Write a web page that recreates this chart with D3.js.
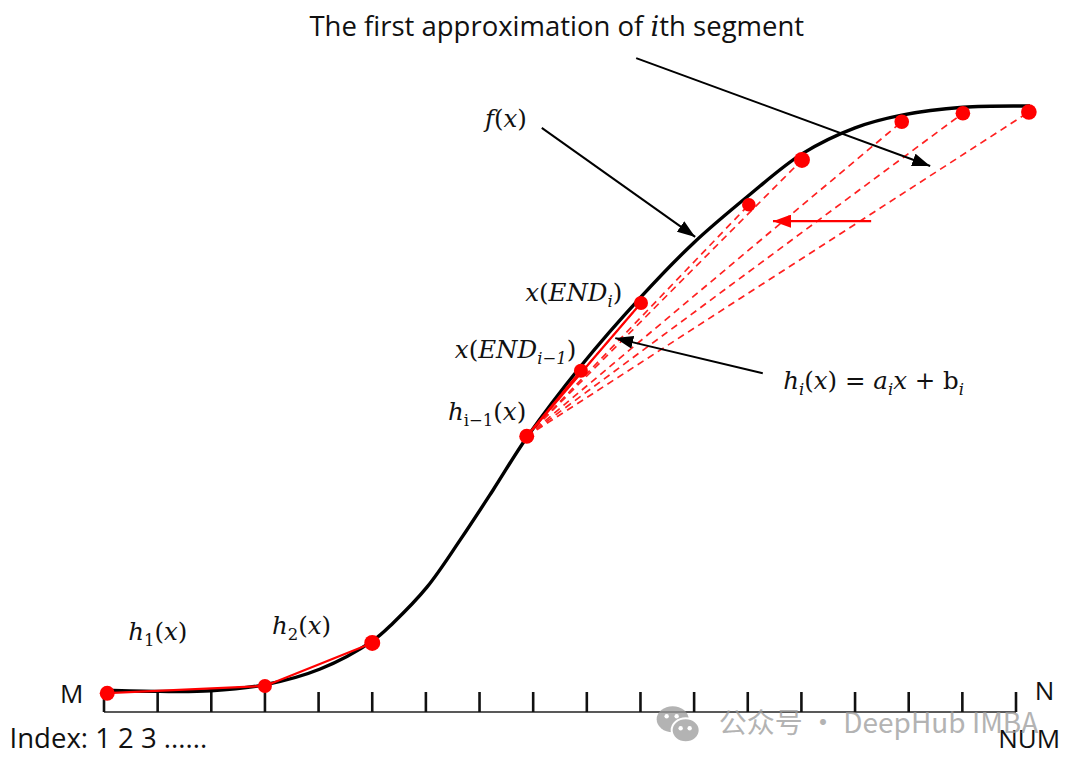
<!DOCTYPE html>
<html>
<head>
<meta charset="utf-8">
<script src="https://cdn.jsdelivr.net/npm/d3@7"></script>
<style>
  body { margin: 0; background: #fff; }
  svg { display: block; }
</style>
</head>
<body>
<div id="chart"></div>
<script>
// index ticks along the bottom axis
const tickIdx = [0, 1, 2, 3, 4, 5, 6, 7, 8, 9, 10, 11, 12, 13, 14, 15, 16, 17];

// f(x): the black S-curve (index, value)
const curveIdx = [0, 1.04, 1.99, 3.0, 4.03, 5.0, 5.39, 6.02, 6.64, 7.25, 7.88, 8.89, 10.01, 10.99, 12.0, 13.01, 14.0, 14.87, 16.01, 17.26];
const curveVal = [3.6, 3.4, 3.5, 4.5, 7.1, 11.7, 14.7, 20.6, 28.4, 36.6, 45.3, 57.1, 68.5, 77.4, 85.1, 92.1, 96.4, 98.5, 99.8, 100];

// red break points
const pointIdx = [0.06, 3.0, 5.0, 7.88, 8.89, 10.01, 12.02, 13.01, 14.87, 16.01, 17.24];
const pointVal = [3.1, 4.3, 11.4, 45.5, 56.3, 67.5, 83.7, 91.1, 97.4, 98.8, 99.0];
const pointR = [7.5, 7, 8, 7.5, 7, 7, 6.8, 8, 7.3, 7.3, 7.8];

// segments between break points
const solidLinks = [[0, 1], [1, 2], [3, 4], [3, 5]];
const dashedLinks = [[3, 5], [3, 6], [3, 7], [3, 8], [3, 9], [3, 10]];

// annotation arrows [fromIdx, fromVal, toIdx, toVal]
const blackArrows = [
  [9.92, 107.9, 15.40, 90.1],
  [8.16, 96.4, 11.02, 78.4],
  [12.28, 55.9, 9.53, 61.7]
];
const redArrows = [[14.30, 81.0, 12.47, 81.0]];

// math labels: [text, style] with style i = italic, r = roman, si/sr = subscript
const mathLabels = [
  { x: 7.1, v: 96.5, parts: [["f", "i"], ["(", "r"], ["x", "i"], [")", "r"]] },
  { x: 7.85, v: 67.8, parts: [["x", "i"], ["(", "r"], ["END", "i"], ["i", "si"], [")", "r"]] },
  { x: 6.54, v: 58.4, parts: [["x", "i"], ["(", "r"], ["END", "i"], ["i\u22121", "si"], [")", "r"]] },
  { x: 6.41, v: 48.2, parts: [["h", "i"], ["i\u22121", "sr"], ["(", "r"], ["x", "i"], [")", "r"]] },
  { x: 12.66, v: 53.3, parts: [["h", "i"], ["i", "si"], ["(", "r"], ["x", "i"], [")", "r"], [" = ", "r"], ["a", "i"], ["i", "si"], ["x", "i"], [" +  b", "r"], ["i", "si"]] },
  { x: 0.45, v: 11.8, parts: [["h", "i"], ["1", "sr"], ["(", "r"], ["x", "i"], [")", "r"]] },
  { x: 3.13, v: 12.9, parts: [["h", "i"], ["2", "sr"], ["(", "r"], ["x", "i"], [")", "r"]] }
];

const W = 1080, H = 766;
const x = d3.scaleLinear().domain([0, 17]).range([104, 1016]);
const y = d3.scaleLinear().domain([0, 100]).range([712, 106]);

const svg = d3.select("#chart").append("svg")
  .attr("width", W)
  .attr("height", H)
  .style("background", "#fff");

const defs = svg.append("defs");
function marker(id, color, w, h) {
  defs.append("marker")
    .attr("id", id)
    .attr("viewBox", `0 0 ${w} ${h}`)
    .attr("refX", w)
    .attr("refY", h / 2)
    .attr("markerWidth", w)
    .attr("markerHeight", h)
    .attr("markerUnits", "userSpaceOnUse")
    .attr("orient", "auto")
    .append("path")
    .attr("d", `M0,0L${w},${h / 2}L0,${h}Z`)
    .attr("fill", color);
}
marker("arrowBlack", "#000", 18, 13);
marker("arrowRed", "#f00", 18, 13);

// axis: base line and upward ticks
svg.append("line")
  .attr("x1", x(0)).attr("x2", x(17))
  .attr("y1", y(0)).attr("y2", y(0))
  .attr("stroke", "#222").attr("stroke-width", 1.6);

svg.selectAll(".tick")
  .data(tickIdx)
  .join("line")
  .attr("class", "tick")
  .attr("x1", d => x(d)).attr("x2", d => x(d))
  .attr("y1", y(0)).attr("y2", y(0) - 20)
  .attr("stroke", "#111").attr("stroke-width", 2.6);

// dashed candidate approximations
svg.selectAll(".dash")
  .data(dashedLinks)
  .join("line")
  .attr("class", "dash")
  .attr("x1", d => x(pointIdx[d[0]])).attr("y1", d => y(pointVal[d[0]]))
  .attr("x2", d => x(pointIdx[d[1]])).attr("y2", d => y(pointVal[d[1]]))
  .attr("stroke", "#ff2020").attr("stroke-width", 1.7)
  .attr("stroke-dasharray", "7,5");

// f(x)
const curveData = curveIdx.map((d, i) => [d, curveVal[i]]);
svg.append("path")
  .datum(curveData)
  .attr("fill", "none")
  .attr("stroke", "#000")
  .attr("stroke-width", 3.4)
  .attr("d", d3.line().x(d => x(d[0])).y(d => y(d[1])).curve(d3.curveCatmullRom));

// solid linear pieces
svg.selectAll(".solid")
  .data(solidLinks)
  .join("line")
  .attr("class", "solid")
  .attr("x1", d => x(pointIdx[d[0]])).attr("y1", d => y(pointVal[d[0]]))
  .attr("x2", d => x(pointIdx[d[1]])).attr("y2", d => y(pointVal[d[1]]))
  .attr("stroke", "#f00").attr("stroke-width", 2.2);

svg.selectAll(".pt")
  .data(pointIdx)
  .join("circle")
  .attr("class", "pt")
  .attr("cx", d => x(d))
  .attr("cy", (d, i) => y(pointVal[i]))
  .attr("r", (d, i) => pointR[i])
  .attr("fill", "#f00");

// arrows
svg.selectAll(".barrow")
  .data(blackArrows)
  .join("line")
  .attr("class", "barrow")
  .attr("x1", d => x(d[0])).attr("y1", d => y(d[1]))
  .attr("x2", d => x(d[2])).attr("y2", d => y(d[3]))
  .attr("stroke", "#000").attr("stroke-width", 2)
  .attr("marker-end", "url(#arrowBlack)");

svg.selectAll(".rarrow")
  .data(redArrows)
  .join("line")
  .attr("class", "rarrow")
  .attr("x1", d => x(d[0])).attr("y1", d => y(d[1]))
  .attr("x2", d => x(d[2])).attr("y2", d => y(d[3]))
  .attr("stroke", "#f00").attr("stroke-width", 2.2)
  .attr("marker-end", "url(#arrowRed)");

// math labels
const mathFont = "'DejaVu Serif', 'Liberation Serif', serif";
mathLabels.forEach(lab => {
  const t = svg.append("text")
    .attr("x", x(lab.x))
    .attr("y", y(lab.v))
    .style("font-family", mathFont)
    .style("font-size", "24.5px")
    .attr("fill", "#111");
  let down = false;
  lab.parts.forEach(([txt, st]) => {
    const sub = st.startsWith("s");
    const ts = t.append("tspan")
      .text(txt)
      .style("font-style", st.endsWith("i") ? "italic" : "normal");
    if (sub) ts.style("font-size", "16.5px");
    if (sub && !down) { ts.attr("dy", 6); down = true; }
    else if (!sub && down) { ts.attr("dy", -6); down = false; }
  });
});

// plain text labels
const sans = "'Open Sans', 'Noto Sans', sans-serif";
const title = svg.append("text")
  .attr("x", x(8.44)).attr("y", y(111.6))
  .attr("text-anchor", "middle")
  .style("font-family", sans).style("font-size", "27.5px").attr("fill", "#111");
title.append("tspan").text("The first approximation of ");
title.append("tspan").text("i").style("font-family", mathFont).style("font-style", "italic");
title.append("tspan").text("th segment");

const plain = [
  { t: "M", x: -0.82, v: 1.5 },
  { t: "N", x: 17.35, v: 2.0 },
  { t: "NUM", x: 16.67, v: -5.9 },
  { t: "Index: 1 2 3 ......", x: -1.76, v: -5.9 }
];
svg.selectAll(".plain")
  .data(plain)
  .join("text")
  .attr("class", "plain")
  .attr("x", d => x(d.x)).attr("y", d => y(d.v))
  .style("font-family", sans)
  .style("font-size", d => d.t.startsWith("Index") ? "27.5px" : "26px")
  .attr("fill", "#111")
  .text(d => d.t);

// watermark
const wm = svg.append("g").attr("opacity", 0.75);
const ic = wm.append("g").attr("transform", `translate(${x(10.6)},${y(-1.2)})`);
ic.append("ellipse").attr("cx", 0).attr("cy", 0).attr("rx", 16).attr("ry", 13).attr("fill", "#9a9a9a");
ic.append("ellipse").attr("cx", 13).attr("cy", 11).attr("rx", 14).attr("ry", 12).attr("fill", "#9a9a9a").attr("stroke", "#fff").attr("stroke-width", 2);
[[-6, -3], [4, -3], [8, 9], [17, 9]].forEach(p => ic.append("circle").attr("cx", p[0]).attr("cy", p[1]).attr("r", 2.2).attr("fill", "#fff"));
wm.append("text")
  .attr("x", x(11.46)).attr("y", y(-3.4))
  .style("font-family", "'Noto Sans CJK SC', sans-serif")
  .style("font-size", "28px").attr("fill", "#9a9a9a")
  .text("公众号 · DeepHub IMBA");
</script>
</body>
</html>
